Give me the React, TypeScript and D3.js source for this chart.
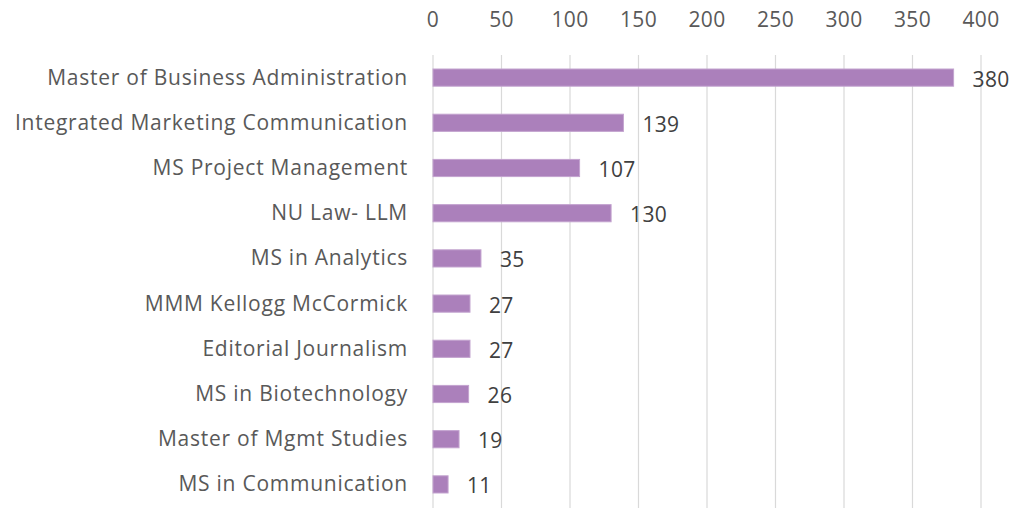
import React from "react";
import * as d3 from "d3";

const categories = [
  "Master of Business Administration",
  "Integrated Marketing Communication",
  "MS Project Management",
  "NU Law- LLM",
  "MS in Analytics",
  "MMM Kellogg McCormick",
  "Editorial Journalism",
  "MS in Biotechnology",
  "Master of Mgmt Studies",
  "MS in Communication",
];
const values = [380, 139, 107, 130, 35, 27, 27, 26, 19, 11];
const ticks = [0, 50, 100, 150, 200, 250, 300, 350, 400];

const W = 1011;
const H = 508;
const FONT = "'Open Sans', sans-serif";
const FS = 21;

export default function App() {
  const x = d3.scaleLinear().domain([0, 400]).range([433, 981]);
  const y = d3.scaleBand<string>().domain(categories).range([55, 507]).paddingInner(0.62).paddingOuter(0.31);
  return (
    <svg width={W} height={H} style={{ position: "absolute", left: 0, top: 0, background: "#fff" }}>
      {ticks.map((t) => (
        <g key={t}>
          <line x1={x(t)} x2={x(t)} y1={55} y2={508} stroke="#d9d9d9" strokeWidth={1.2} />
          <text x={x(t)} y={27} textAnchor="middle" fontFamily={FONT} fontSize={FS} letterSpacing={0.3} fill="#595959">
            {t}
          </text>
        </g>
      ))}
      {categories.map((c, i) => {
        const yy = y(c)!;
        const bw = y.bandwidth();
        return (
          <g key={c}>
            <rect x={x(0)} y={yy} width={x(values[i]) - x(0)} height={bw} fill="#ab80bb" stroke="#c3a3cf" strokeWidth={1} />
            <text x={408} y={yy + bw / 2} dy="0.33em" textAnchor="end" fontFamily={FONT} fontSize={FS} letterSpacing={0.75} fill="#595959">
              {c}
            </text>
            <text x={x(values[i]) + 19} y={yy + bw / 2} dy="0.43em" textAnchor="start" fontFamily={FONT} fontSize={FS} letterSpacing={0.3} fill="#404040">
              {values[i]}
            </text>
          </g>
        );
      })}
    </svg>
  );
}
